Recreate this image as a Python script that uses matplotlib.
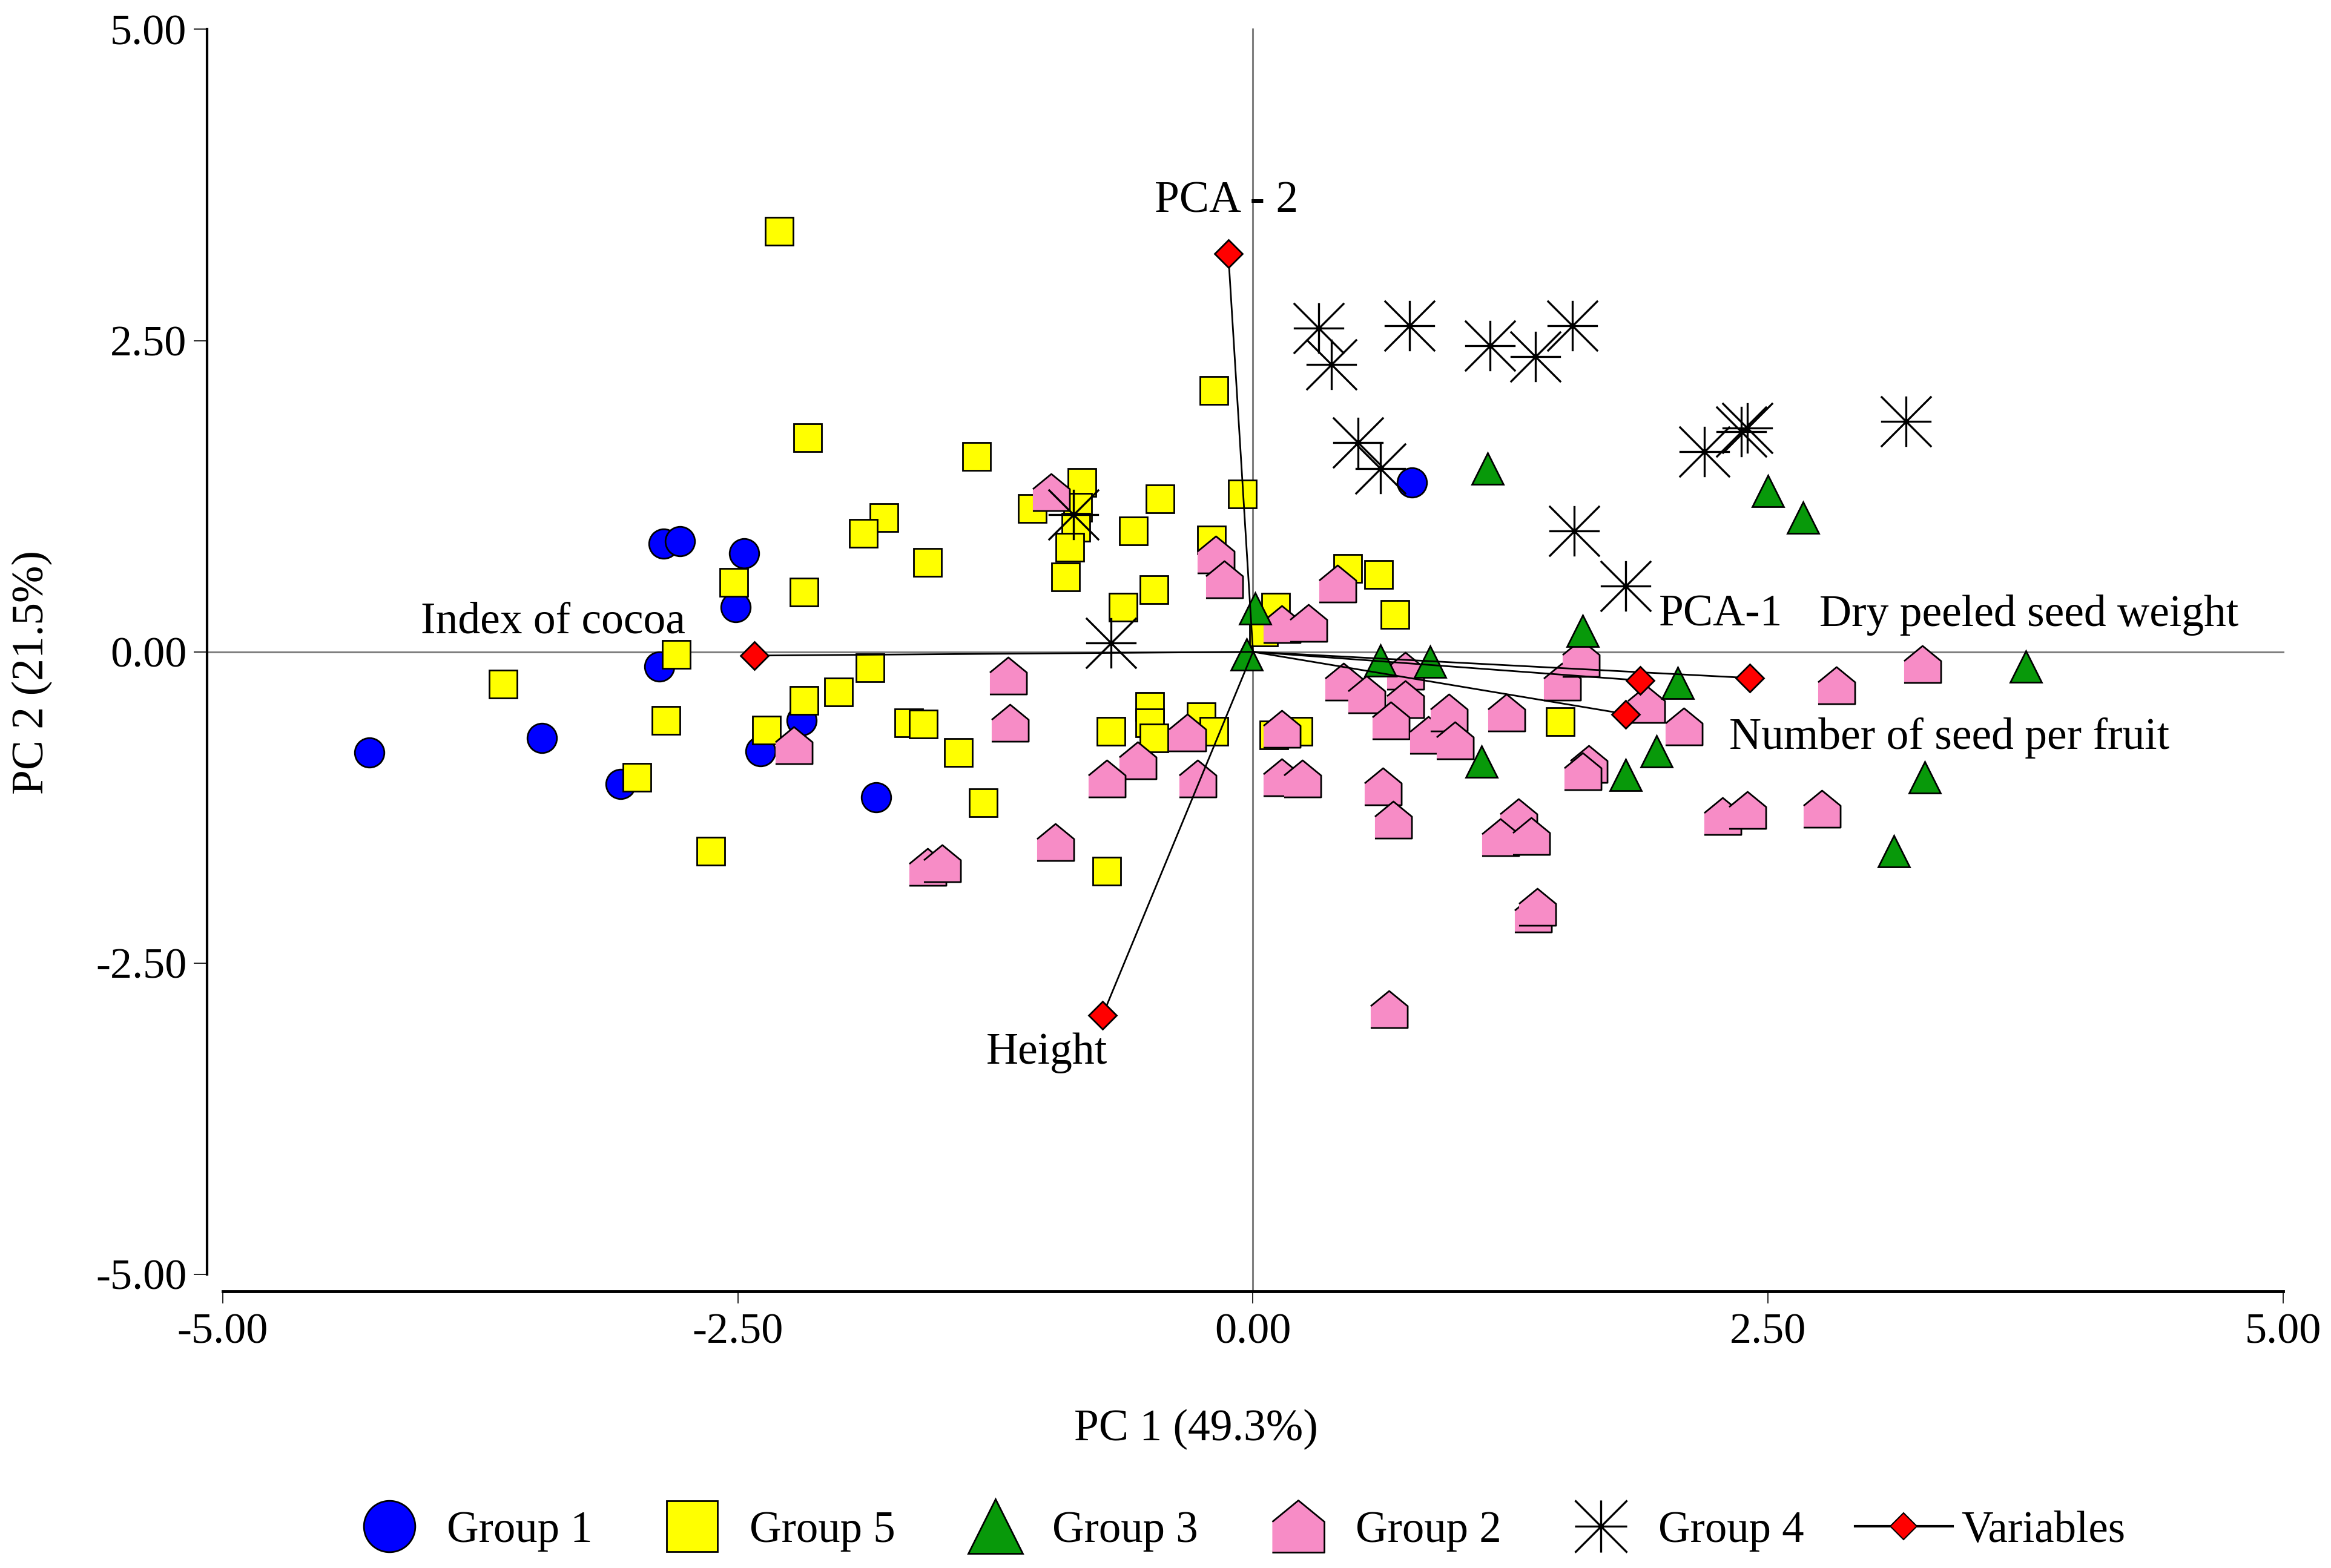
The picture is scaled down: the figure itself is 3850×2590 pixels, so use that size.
import matplotlib
matplotlib.use('Agg')
import matplotlib.pyplot as plt
from matplotlib.path import Path
from matplotlib.lines import Line2D

plt.rcParams['font.family'] = ['Liberation Serif', 'DejaVu Serif']

# ---------------- data (PC1, PC2 scores) ----------------
g1_x = [-4.29, -3.45, -3.07, -2.86, -2.78, -2.88, -2.47, -2.51, -2.39, -2.19, -1.83, 0.77]
g1_y = [-0.81, -0.69, -1.06, 0.87, 0.89, -0.12, 0.79, 0.36, -0.80, -0.55, -1.17, 1.36]

g5_x = [-2.30, -2.16, -1.34, -0.19, -0.05, -1.79, -1.89, -1.58, -2.52, -2.18, -0.83, -1.07,
        -0.85, -0.86, -0.89, -0.91, -0.45, -0.58, -0.20, -0.48, -0.63, 0.11, 0.46, 0.61,
        0.69, 0.05, -2.80, -3.64, -2.85, -2.36, -2.99, -2.63, -1.86, -2.01, -2.18, -1.67,
        -1.60, -1.43, -1.31, -0.69, -0.50, -0.50, -0.48, -0.25, -0.19, 0.10, 0.22, 1.49, -0.71]
g5_y = [3.38, 1.72, 1.57, 2.10, 1.27, 1.08, 0.95, 0.72, 0.56, 0.48, 1.36, 1.15,
        1.16, 1.00, 0.84, 0.60, 1.23, 0.97, 0.90, 0.50, 0.36, 0.36, 0.67, 0.62,
        0.30, 0.16, -0.02, -0.26, -0.55, -0.63, -1.01, -1.60, -0.13, -0.32, -0.39, -0.57,
        -0.58, -0.81, -1.21, -0.64, -0.44, -0.57, -0.69, -0.52, -0.64, -0.67, -0.64, -0.56, -1.76]

g3_x = [1.14, 2.50, 2.67, 1.60, 0.86, 0.62, 2.06, 3.75, 1.11, 1.96, 1.81, 3.26, 3.11, 0.01, -0.03]
g3_y = [1.47, 1.29, 1.08, 0.17, -0.08, -0.07, -0.25, -0.12, -0.88, -0.80, -0.99, -1.01, -1.60, 0.35, -0.02]

g2_x = [-0.98, -0.18, -0.14, 0.41, 0.14, 0.27, -1.19, -1.18, -2.23, -0.32, -0.56, -0.71,
        -0.27, 0.14, 0.14, 0.24, -0.96, -1.58, -1.51, 0.63, 0.68, 1.29, 1.20, 1.35,
        1.36, 1.38, 0.66, 0.44, 0.55, 0.74, 0.74, 0.67, 0.85, 0.95, 0.98, 1.23,
        1.50, 1.59, 1.91, 2.09, 1.63, 1.60, 2.83, 3.25, 2.28, 2.40, 2.76]
g2_y = [1.28, 0.78, 0.58, 0.55, 0.22, 0.23, -0.19, -0.57, -0.75, -0.65, -0.87, -1.02,
        -1.02, -0.62, -1.01, -1.02, -1.53, -1.73, -1.70, -1.08, -1.35, -1.33, -1.49, -1.48,
        -2.10, -2.05, -2.87, -0.24, -0.34, -0.15, -0.38, -0.55, -0.67, -0.49, -0.71, -0.49,
        -0.24, -0.05, -0.42, -0.60, -0.90, -0.96, -0.27, -0.10, -1.32, -1.27, -1.26]

g4_x = [0.32, 0.38, 0.76, 1.15, 1.37, 1.55, 0.51, 0.62, 2.19, 2.37, 2.40, 3.17, 1.56, 1.81, -0.69, -0.87]
g4_y = [2.60, 2.31, 2.62, 2.46, 2.37, 2.62, 1.68, 1.47, 1.61, 1.77, 1.80, 1.85, 0.97, 0.53, 0.07, 1.10]

var_names = ['PCA - 2', 'Height', 'Index of cocoa', 'Dry peeled seed weight', 'PCA-1',
             'Number of seed per fruit']
var_x = [-0.12, -0.73, -2.42, 2.41, 1.88, 1.81]
var_y = [3.20, -2.92, -0.03, -0.21, -0.23, -0.50]

# label anchor points (data units) for the variable names
lab_x = [-0.13, -1.00, -4.04, 2.75, 1.97, 2.31]
lab_y = [3.53, -3.31, 0.15, 0.21, 0.21, -0.78]
lab_ha = ['center', 'center', 'left', 'left', 'left', 'left']

ticks = [-5.0, -2.5, 0.0, 2.5, 5.0]
tick_labels = ['-5.00', '-2.50', '0.00', '2.50', '5.00']

legend_labels = ['Group 1', 'Group 5', 'Group 3', 'Group 2', 'Group 4', 'Variables']

# ---------------- styles ----------------
C_BLUE = '#0000FF'
C_YEL = '#FFFF00'
C_GRN = '#08990A'
C_PINK = '#F78CC6'
C_RED = '#FF0000'

house = [(-1, -1), (1, -1), (1, 0.18), (0, 1), (-1, 0.18)]
star_path = Path([(-1, 0), (1, 0), (0, -1), (0, 1), (-1, -1), (1, 1), (-1, 1), (1, -1)],
                 [Path.MOVETO, Path.LINETO] * 4)

fig = plt.figure(figsize=(38.5, 25.9), dpi=100)
ax = fig.add_axes([0.09558, 0.18726, 0.8839, 0.79405])
ax.set_xlim(-5, 5)
ax.set_ylim(-5, 5)

# reference lines through the origin
ax.axhline(0, xmin=-0.0076, xmax=1, color='#808080', lw=2.2, zorder=1, clip_on=False)
ax.axvline(0, ymin=-0.0136, ymax=1, color='#808080', lw=2.2, zorder=1, clip_on=False)

ew = 2.0
ax.plot(g1_x, g1_y, linestyle='none', marker='o', ms=35, mfc=C_BLUE, mec='black', mew=ew, zorder=3)
ax.plot(g5_x, g5_y, linestyle='none', marker='s', ms=33, mfc=C_YEL, mec='black', mew=ew, zorder=4)
ax.plot(g2_x, g2_y, linestyle='none', marker=house, ms=44, mfc=C_PINK, mec='black', mew=ew, zorder=5)
ax.plot(g3_x, g3_y, linestyle='none', marker='^', ms=37, mfc=C_GRN, mec='black', mew=ew, zorder=6)
ax.plot(g4_x, g4_y, linestyle='none', marker=star_path, ms=60, mfc='none', mec='black', mew=2.4, zorder=7)

# variable vectors
for vx, vy in zip(var_x, var_y):
    ax.plot([0, vx], [0, vy], color='black', lw=2.0, zorder=8)
ax.plot(var_x, var_y, linestyle='none', marker='D', ms=23, mfc=C_RED, mec='black', mew=ew, zorder=9)

for name, lx, ly, ha in zip(var_names, lab_x, lab_y, lab_ha):
    ax.text(lx, ly, name, ha=ha, va='baseline', fontsize=53, zorder=10)

# axes styling
for s in ['top', 'right']:
    ax.spines[s].set_visible(False)
ax.spines['left'].set_position(('outward', 19))
ax.spines['bottom'].set_position(('outward', 20))
ax.spines['left'].set_linewidth(3)
ax.spines['bottom'].set_linewidth(3.5)
ax.set_xticks(ticks)
ax.set_xticklabels(tick_labels)
ax.set_yticks(ticks)
ax.set_yticklabels(tick_labels)
ax.tick_params(axis='x', length=14.5, width=1.2, pad=11, labelsize=52, direction='out')
ax.tick_params(axis='y', length=16, width=1.2, pad=8, labelsize=52, direction='out')

fig.text(0.513, 0.0884, 'PC 1 (49.3%)', ha='center', va='center', fontsize=53)
fig.text(0.014, 0.5714, 'PC 2 (21.5%)', ha='center', va='center', rotation=90, fontsize=53)

# legend
handles = [
    Line2D([], [], linestyle='none', marker='o', ms=61, mfc=C_BLUE, mec='black', mew=ew),
    Line2D([], [], linestyle='none', marker='s', ms=60, mfc=C_YEL, mec='black', mew=ew),
    Line2D([], [], linestyle='none', marker='^', ms=65, mfc=C_GRN, mec='black', mew=ew),
    Line2D([], [], linestyle='none', marker=house, ms=62, mfc=C_PINK, mec='black', mew=ew),
    Line2D([], [], linestyle='none', marker=star_path, ms=62, mfc='none', mec='black', mew=2.4),
    Line2D([], [], color='black', lw=3, marker='D', ms=22, mfc=C_RED, mec='black', mew=1.5),
]
fig.legend(handles, legend_labels, loc='center left', bbox_to_anchor=(0.1462, 0.0236),
           ncol=6, frameon=False, fontsize=52.5, handlelength=2.2, handletextpad=0.2,
           columnspacing=1.16, borderpad=0, borderaxespad=0, numpoints=1)

fig.savefig('out.png', dpi=100)
